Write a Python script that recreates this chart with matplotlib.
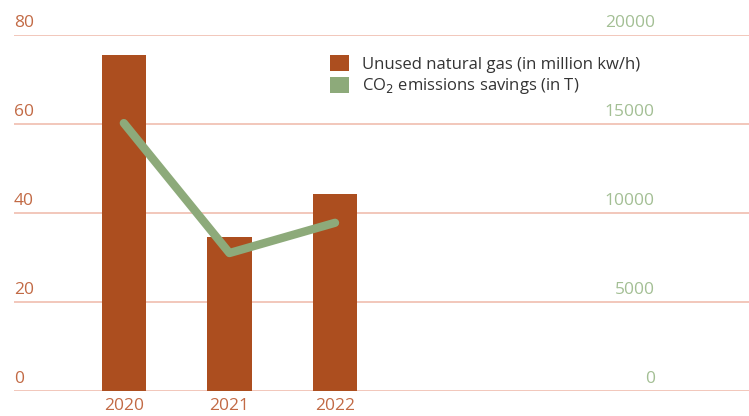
import numpy as np
import matplotlib
matplotlib.use("Agg")
import matplotlib.pyplot as plt
from matplotlib.patches import Patch
import matplotlib.transforms as mtransforms

# Data
years = ["2020", "2021", "2022"]
gas = [75.5, 34.6, 44.3]          # unused natural gas (million kw/h)
co2 = [15050, 7750, 9450]         # CO2 emissions savings (T)
leftTicks = [0, 20, 40, 60, 80]
rightTicks = [0, 5000, 10000, 15000, 20000]

barColor = "#AC4E1F"
lineColor = "#8DAA7A"
gridColor = "#F1C3B5"
leftLabelColor = "#C26A45"
rightLabelColor = "#A3BF94"

plt.rcParams['font.family'] = ['Open Sans', 'DejaVu Sans']

fig = plt.figure(figsize=(7.49, 4.16), dpi=100)
ax = fig.add_axes([14 / 749, 25 / 416, 735 / 749, 356 / 416])
ax2 = ax.twinx()

x = np.arange(len(years))
ax.bar(x, gas, width=0.42, color=barColor, zorder=2)
ax.set_ylim(0, 80)
ax.set_xlim(-1.04, 5.92)
ax2.set_ylim(0, 20000)

ax2.plot(x, co2, color=lineColor, lw=6, solid_capstyle="round",
         solid_joinstyle="round", zorder=3)

# Gridlines
for t in leftTicks:
    ax.axhline(t, color=gridColor, lw=1.3, zorder=1)

# Hide frame and ticks
for a in (ax, ax2):
    for s in a.spines.values():
        s.set_visible(False)
    a.set_yticks([])
ax.tick_params(axis="x", length=0, pad=5, labelsize=12.5, labelcolor=leftLabelColor)
ax.set_xticks(x)
ax.set_xticklabels(years)

# Left axis labels, sitting above the gridlines
trans = mtransforms.blended_transform_factory(ax.transAxes, ax.transData)
for t in leftTicks:
    ax.text(0.0, t + 0.8, str(t), transform=trans, ha="left", va="bottom",
            fontsize=12.5, color=leftLabelColor)

# Right axis labels
trans2 = mtransforms.blended_transform_factory(ax2.transAxes, ax2.transData)
for t in rightTicks:
    ax2.text(0.872, t + 200, str(t), transform=trans2, ha="right", va="bottom",
             fontsize=12.5, color=rightLabelColor)

# Legend
handles = [Patch(facecolor=barColor, edgecolor="none"),
           Patch(facecolor=lineColor, edgecolor="none")]
labels = ["Unused natural gas (in million kw/h)", "CO$_2$ emissions savings (in T)"]
ax2.legend(handles, labels, loc="upper left", bbox_to_anchor=(0.41, 0.985),
           frameon=False, fontsize=12, handlelength=1.1, handleheight=1.1,
           handletextpad=0.8, labelspacing=0.2, labelcolor="#333333")

plt.savefig("out.png", dpi=100)
